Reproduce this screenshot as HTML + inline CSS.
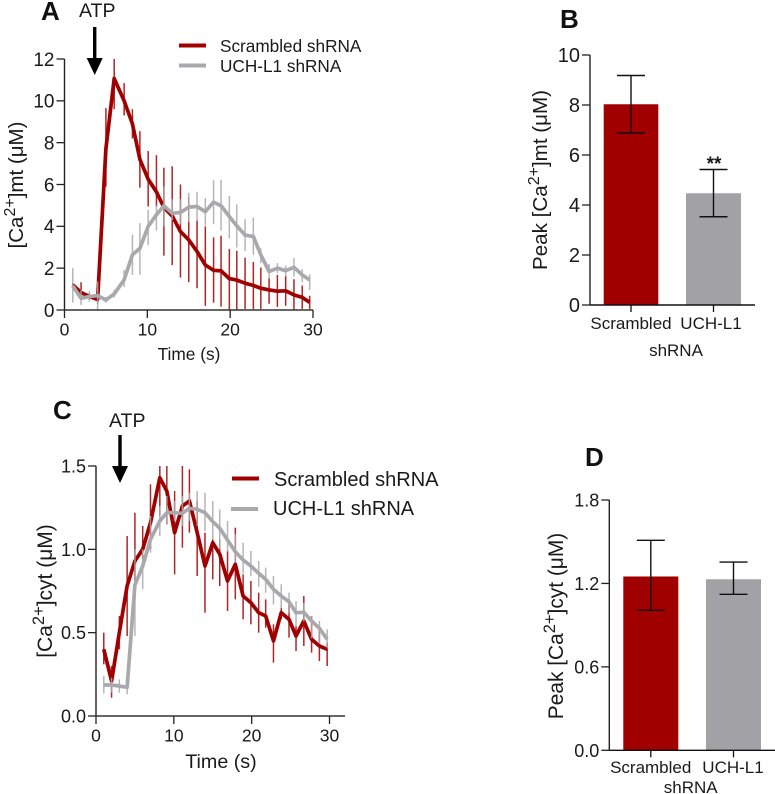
<!DOCTYPE html>
<html lang="en">
<head>
<meta charset="utf-8">
<title>Calcium peak charts</title>
<style>
html,body{margin:0;padding:0;background:#fff;}
svg{display:block;font-family:"Liberation Sans",Arial,sans-serif;fill:#1a1a1a;}
.pl{font-weight:bold;font-size:26px;fill:#111;}
</style>
</head>
<body>
<svg id="fig" xmlns="http://www.w3.org/2000/svg" width="775" height="794" viewBox="0 0 775 794">
  <g>
    <text class="pl" x="41" y="20">A</text>
    <text x="79" y="17" font-size="19.5">ATP</text>
    <path d="M93 27h3.4v31h6.3l-8 17-8-17h6.3z" fill="#000"/>
    <text transform="translate(23,185) rotate(-90)" text-anchor="middle" font-size="20.5">[Ca<tspan font-size="16" dy="-8">2+</tspan><tspan dy="8">]mt (μM)</tspan></text>
    <text x="189" y="360" text-anchor="middle" font-size="17.3">Time (s)</text>
    <line x1="179" y1="45.5" x2="206" y2="45.5" stroke="#a00000" stroke-width="4"/>
    <text x="220" y="52" font-size="17.2">Scrambled shRNA</text>
    <line x1="179" y1="65.5" x2="206" y2="65.5" stroke="#a9a9ad" stroke-width="4"/>
    <text x="220" y="72" font-size="17.2">UCH-L1 shRNA</text>
  </g>
  <g>
    <text class="pl" x="560" y="28">B</text>
    <text transform="translate(547,180) rotate(-90)" text-anchor="middle" font-size="20.6">Peak [Ca<tspan font-size="16" dy="-8">2+</tspan><tspan dy="8">]mt (μM)</tspan></text>
    <text x="631" y="329" text-anchor="middle" font-size="17">Scrambled</text>
    <text x="711" y="329" text-anchor="middle" font-size="17">UCH-L1</text>
    <text x="676" y="356" text-anchor="middle" font-size="17">shRNA</text>
    <text x="714" y="170" text-anchor="middle" font-size="19" font-weight="bold">**</text>
  </g>
  <g>
    <text class="pl" x="53" y="419">C</text>
    <text x="109" y="427" font-size="19.5">ATP</text>
    <path d="M118.3 435h3.4v31h6.3l-8 17-8-17h6.3z" fill="#000"/>
    <text transform="translate(52,591) rotate(-90)" text-anchor="middle" font-size="21">[Ca<tspan font-size="16.5" dy="-8">2+</tspan><tspan dy="8">]cyt (μM)</tspan></text>
    <text x="221" y="768" text-anchor="middle" font-size="19.7">Time (s)</text>
    <line x1="232" y1="478.5" x2="259" y2="478.5" stroke="#a00000" stroke-width="4"/>
    <text x="274" y="486" font-size="20">Scrambled shRNA</text>
    <line x1="231" y1="509" x2="258" y2="509" stroke="#a9a9ad" stroke-width="4"/>
    <text x="273" y="515" font-size="20">UCH-L1 shRNA</text>
  </g>
  <g>
    <text class="pl" x="585" y="466">D</text>
    <text transform="translate(563,626) rotate(-90)" text-anchor="middle" font-size="20.9">Peak [Ca<tspan font-size="16.5" dy="-8">2+</tspan><tspan dy="8">]cyt (μM)</tspan></text>
    <text x="650.7" y="773" text-anchor="middle" font-size="17">Scrambled</text>
    <text x="733" y="773" text-anchor="middle" font-size="17">UCH-L1</text>
    <text x="690.7" y="793" text-anchor="middle" font-size="17">shRNA</text>
  </g>
</svg>
<script>
// Panel A data
const timeA = [1,2,3,4,5,6,7.2,8.2,9.1,10.1,11.1,12,13,14,15,16,17,18,18.9,19.9,20.8,21.8,22.8,23.7,24.7,25.7,26.7,27.7,28.7,29.6];
const scrambledA = [1.2,.83,.65,.5,7.7,11.07,10,8.9,7.2,6.25,5.65,4.9,4.5,3.75,3.35,2.8,2.15,1.9,1.87,1.5,1.43,1.28,1.17,1.04,.96,.9,.92,.72,.6,.37];
const scrambledAHigh = [1.3,1.33,.8,.7,9.65,12,10.85,9.6,8.55,7.6,7.4,6.8,6.87,6,5.4,4.27,4,3.47,3.55,2.92,2.83,2.5,2.3,2.03,1.52,1.68,1.63,1.47,1.17,.68];
const scrambledALow = [1.1,.5,.5,.3,5.9,9.6,9.3,8.2,5.85,4.95,4.95,2.6,2.15,1.55,1.33,1.04,.2,.35,.16,.03,.03,.05,.04,.05,.3,.15,.2,0,.05,.05];
const uchA = [1.15,.56,.64,.69,.48,.77,1.44,2.64,2.95,4,4.55,4.98,4.63,4.66,4.92,4.95,4.7,5.16,4.98,4.47,4.02,3.58,3.51,2.64,1.84,2,1.88,2.04,1.68,1.44];
const uchAHigh = [2,.96,.9,1.36,.62,.95,1.92,3.6,4.15,4.8,5,5.9,5.3,5.3,5.6,5.65,5.35,6.2,6.23,5.45,5.05,4.34,4.42,2.95,2.2,2.24,2.13,2.48,1.95,1.7];
const uchALow = [.35,.24,.4,0,.34,.6,1.1,1.68,1.68,3.1,3.8,4,4.3,4.1,4.2,4.27,4.05,4.1,3.8,3.42,2.99,2.82,2.64,2.23,1.5,1.76,1.6,1.6,1.33,.96];
const xTicksA = [0,10,20,30];
const yTicksA = [0,2,4,6,8,10,12];

// Panel C data
const timeC = [1,2,3,4,5,6,7,8.2,9.1,10.1,11.1,12,13,14,15,15.9,16.9,17.9,18.9,19.9,20.9,21.8,22.8,23.8,24.8,25.7,26.7,27.7,28.7,29.7];
const scrambledC = [.4,.21,.5,.78,.93,1,1.16,1.43,1.35,1.1,1.26,1.29,1.1,.9,1.04,.97,.81,.91,.72,.68,.62,.6,.45,.62,.58,.48,.57,.46,.42,.4];
const scrambledCHigh = [.5,.3,.6,1.08,1.22,1.14,1.39,1.5,1.5,1.35,1.5,1.48,1.29,1.1,1.06,1.06,.99,1.13,.85,.81,.74,.7,.55,.65,.7,.54,.72,.6,.54,.44];
const scrambledCLow = [.31,.11,.4,.48,.7,.94,1,1.2,1.15,.85,1.01,1.1,.84,.62,.82,.78,.63,.7,.58,.55,.5,.53,.32,.58,.47,.39,.42,.38,.33,.3];
const uchC = [.186,.186,.18,.172,.786,.9,1.06,1.17,1.22,1.22,1.216,1.246,1.24,1.22,1.166,1.126,1.056,.986,.936,.9,.856,.82,.76,.72,.686,.62,.622,.57,.526,.46];
const uchCHigh = [.24,.23,.22,.2,1,1,1.2,1.26,1.32,1.29,1.32,1.34,1.35,1.34,1.29,1.24,1.17,1.09,1.04,.99,.93,.89,.84,.79,.74,.69,.68,.6,.57,.52];
const uchCLow = [.136,.14,.14,.13,.48,.76,.98,1.08,1.15,1.17,1.14,1.17,1.14,1.11,1.06,1,.986,.92,.856,.84,.776,.74,.67,.646,.616,.536,.566,.466,.432,.406];
const xTicksC = [0,10,20,30];
const yTicksC = [0,0.5,1,1.5];
const yTickLabelsC = ['0.0','0.5','1.0','1.5'];

// Panel B data
const barMeansB = [8.03,4.47];
const barHighB = [9.18,5.42];
const barLowB = [6.88,3.53];
const yTicksB = [0,2,4,6,8,10];

// Panel D data
const barMeansD = [1.25,1.23];
const barHighD = [1.51,1.354];
const barLowD = [1.007,1.122];
const yTicksD = [0,0.6,1.2,1.8];
const yTickLabelsD = ['0.0','0.6','1.2','1.8'];

const svg = document.getElementById('fig');
const NS = 'http://www.w3.org/2000/svg';
const RED = '#a00000';
const GRAY = '#a9a9ad';

function add(parent, tag, props, name, interactable) {
  const el = document.createElementNS(NS, tag);
  for (const k in props) el.setAttribute(k, props[k]);
  
  
  parent.appendChild(el);
  return el;
}
function linear(d0, d1, r0, r1) {
  return v => r0 + (v - d0) / (d1 - d0) * (r1 - r0);
}
function yAxis(g, id, x, y, ticks, labels, fs, lineEnd) {
  const ys = ticks.map(y);
  add(g, 'line', {x1:x, x2:x, y1:Math.min(...ys), y2:lineEnd, stroke:'#222', 'stroke-width':1.4}, 'y-axis-line-' + id);
  ticks.forEach((t, i) => {
    add(g, 'line', {x1:x-8, x2:x, y1:y(t), y2:y(t), stroke:'#222', 'stroke-width':1.3}, 'y-tick-' + id);
    const tx = add(g, 'text', {x:x-10, y:y(t)+fs*0.36, 'text-anchor':'end', 'font-size':fs}, 'y-tick-label-' + id);
    tx.textContent = labels ? labels[i] : String(t);
  });
}
function series(g, id, times, mean, hi, lo, x, y, color, width) {
  times.forEach((t, i) => {
    add(g, 'line', {x1:x(t), x2:x(t), y1:y(hi[i]), y2:y(lo[i]), stroke:color, 'stroke-width':1.5, opacity:0.85}, 'error-bar-' + id);
  });
  const pts = times.map((t, i) => x(t).toFixed(1) + ',' + y(mean[i]).toFixed(1)).join(' ');
  add(g, 'polyline', {points:pts, fill:'none', stroke:color, 'stroke-width':width, 'stroke-linejoin':'round'}, 'line-' + id);
}
function linePanel(id, x, y, xTicks, yTicks, yLabels, yFont, axisEnd, s1, s2) {
  const g = add(svg, 'g', {}, 'chart-' + id);
  const x0 = x(0), y0 = y(0);
  series(g, 'scrambled-' + id, s1[0], s1[1], s1[2], s1[3], x, y, RED, 3.7);
  series(g, 'uch-l1-' + id, s2[0], s2[1], s2[2], s2[3], x, y, GRAY, 3.7);
  yAxis(g, id, x0, y, yTicks, yLabels, yFont, y0);
  add(g, 'line', {x1:x0, x2:axisEnd, y1:y0, y2:y0, stroke:'#333', 'stroke-width':1.4}, 'x-axis-line-' + id);
  xTicks.forEach(t => {
    add(g, 'line', {x1:x(t), x2:x(t), y1:y0, y2:y0+8, stroke:'#222', 'stroke-width':1.3}, 'x-tick-' + id);
    const tx = add(g, 'text', {x:x(t), y:y0+25.5, 'text-anchor':'middle', 'font-size':17.5}, 'x-tick-label-' + id);
    tx.textContent = String(t);
  });
}
function barPanel(id, y, bars, means, hi, lo, axisX, axisEnd, yTicks, yLabels, fs) {
  const g = add(svg, 'g', {}, 'chart-' + id);
  const y0 = y(0);
  const colors = [RED, '#a2a2a6'];
  means.forEach((m, i) => {
    const b = bars[i], cx = (b[0] + b[1]) / 2;
    add(g, 'rect', {x:b[0], y:y(m), width:b[1]-b[0], height:y0-y(m), fill:colors[i]}, 'bar-' + id + '-' + (i+1));
    add(g, 'line', {x1:cx, x2:cx, y1:y(hi[i]), y2:y(lo[i]), stroke:'#111', 'stroke-width':1.4}, 'error-bar-' + id);
    add(g, 'line', {x1:cx-14, x2:cx+14, y1:y(hi[i]), y2:y(hi[i]), stroke:'#111', 'stroke-width':1.4}, 'error-cap-high-' + id);
    add(g, 'line', {x1:cx-14, x2:cx+14, y1:y(lo[i]), y2:y(lo[i]), stroke:'#111', 'stroke-width':1.4}, 'error-cap-low-' + id);
    add(g, 'line', {x1:cx, x2:cx, y1:y0, y2:y0+7, stroke:'#111', 'stroke-width':1.3}, 'x-tick-' + id);
  });
  yAxis(g, id, axisX, y, yTicks, yLabels, fs, y0);
  add(g, 'line', {x1:axisX, x2:axisEnd, y1:y0, y2:y0, stroke:'#111', 'stroke-width':1.4}, 'x-axis-line-' + id);
}

linePanel('a', linear(0,30,64.5,313), linear(0,12,310,59), xTicksA, yTicksA, null, 19, 313,
  [timeA, scrambledA, scrambledAHigh, scrambledALow],
  [timeA, uchA, uchAHigh, uchALow]);
linePanel('c', linear(0,30,96,329.5), linear(0,1.5,716,466), xTicksC, yTicksC, yTickLabelsC, 18, 345,
  [timeC, scrambledC, scrambledCHigh, scrambledCLow],
  [timeC, uchC, uchCHigh, uchCLow]);
barPanel('b', linear(0,10,305,55), [[603.7,658.3],[686,741]], barMeansB, barHighB, barLowB, 590, 755, yTicksB, null, 20);
barPanel('d', linear(0,1.8,750.3,500), [[623.3,678.3],[706,761]], barMeansD, barHighD, barLowD, 609.3, 775, yTicksD, yTickLabelsD, 18);
</script>
</body>
</html>
